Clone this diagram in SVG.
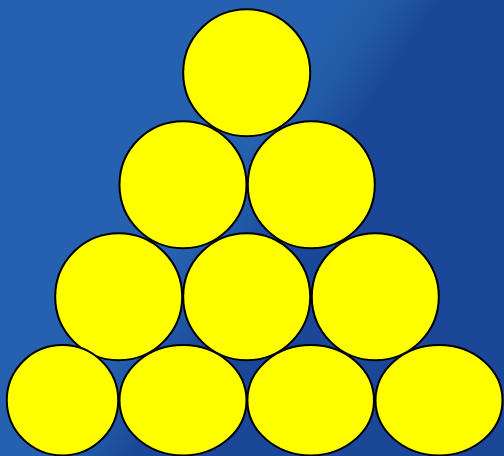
<svg xmlns="http://www.w3.org/2000/svg" width="504" height="456" viewBox="0 0 504 456">
<defs>
<linearGradient id="bg" gradientUnits="userSpaceOnUse" x1="215" y1="196" x2="280" y2="240">
<stop offset="0" stop-color="#2561AE"/>
<stop offset="0.5" stop-color="#2058A6"/>
<stop offset="1" stop-color="#1A4798"/>
</linearGradient>
<style>
.ball{fill:#FFFF00;stroke:#000;stroke-width:2}
</style>
</defs>
<rect x="0" y="0" width="504" height="456" fill="url(#bg)"/>
<g id="ball-1"><ellipse class="ball" cx="246.7" cy="72.7" rx="63.5" ry="63.5"/></g>
<g id="ball-2"><ellipse class="ball" cx="183" cy="184.7" rx="63.5" ry="63.5"/></g>
<g id="ball-3"><ellipse class="ball" cx="311.3" cy="184.7" rx="63.5" ry="63.5"/></g>
<g id="ball-4"><ellipse class="ball" cx="118.7" cy="296.7" rx="63.5" ry="63.5"/></g>
<g id="ball-5"><ellipse class="ball" cx="246.7" cy="296.7" rx="63.5" ry="63.5"/></g>
<g id="ball-6"><ellipse class="ball" cx="375.3" cy="296.7" rx="63.5" ry="63.5"/></g>
<g id="ball-7"><ellipse class="ball" cx="62.5" cy="400.2" rx="55.7" ry="55.2"/></g>
<g id="ball-8"><ellipse class="ball" cx="183" cy="400.2" rx="63.5" ry="55.2"/></g>
<g id="ball-9"><ellipse class="ball" cx="310.7" cy="400.2" rx="63.3" ry="55.2"/></g>
<g id="ball-10"><ellipse class="ball" cx="439" cy="400.2" rx="63.5" ry="55.2"/></g>
<g id="connectors"></g>
</svg>
